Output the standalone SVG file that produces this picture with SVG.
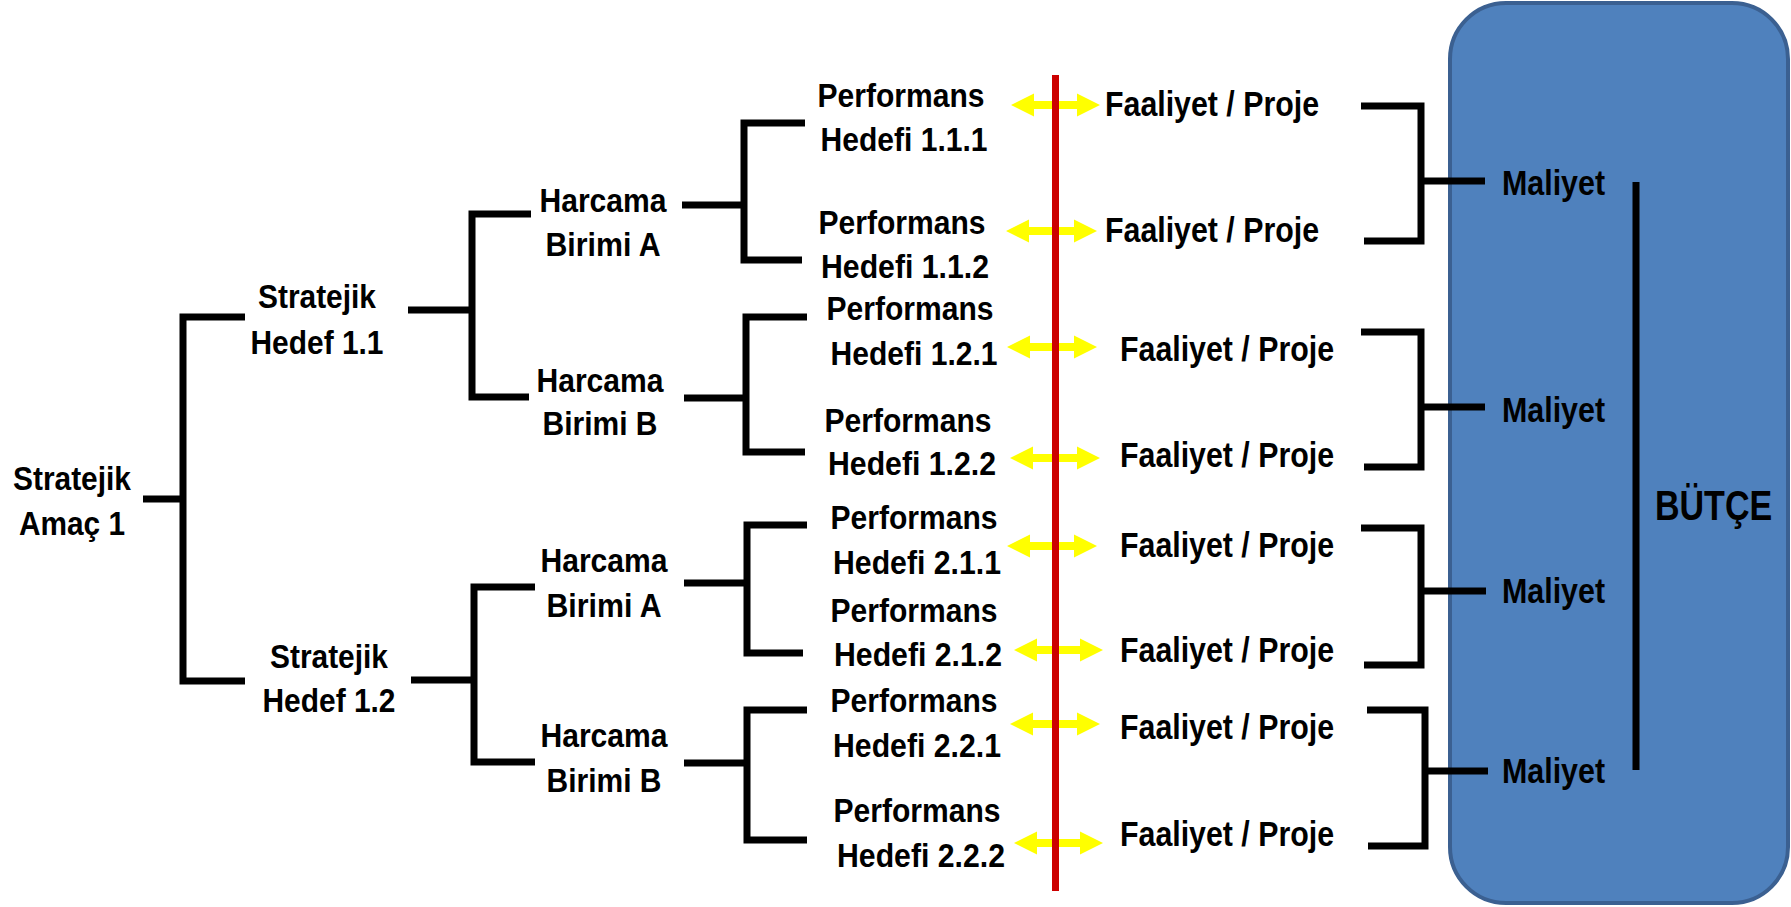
<svg xmlns="http://www.w3.org/2000/svg" width="1791" height="907" viewBox="0 0 1791 907">
<style>
text{font-family:"Liberation Sans",Arial,sans-serif;font-weight:bold;fill:#000;font-size:33px;text-anchor:middle}
.fp{font-size:35px;text-anchor:start}
.ml{font-size:35px;text-anchor:start}
.bt{font-size:42px;text-anchor:start}
.ln{fill:none;stroke:#000;stroke-width:7;stroke-linejoin:miter}
.arr{fill:#FFFF00;stroke:none}
</style>
<rect id="butce-box" x="1450" y="3" width="338" height="900" rx="56" ry="56" fill="#4F81BD" stroke="#3B6091" stroke-width="4"/>
<g id="connectors">
<path class="ln" d="M143,499 H183 M245,317 H183 V681 H245"/>
<path class="ln" d="M408,310 H472 M531,214 H472 V397 H529"/>
<path class="ln" d="M411,680 H474 M535,587 H474 V762 H535"/>
<path class="ln" d="M682,205 H744 M805,123 H744 V260 H802"/>
<path class="ln" d="M684,398 H746 M807,317 H746 V452 H805"/>
<path class="ln" d="M684,583 H747 M807,525 H747 V653 H803"/>
<path class="ln" d="M684,763 H747 M807,710 H747 V840 H807"/>
<path class="ln" d="M1361,106 H1421 V241 H1364 M1421,181 H1485"/>
<path class="ln" d="M1361,332 H1421 V467 H1364 M1421,407 H1485"/>
<path class="ln" d="M1361,528 H1421 V665 H1364 M1421,591 H1486"/>
<path class="ln" d="M1367,710 H1425 V846 H1368 M1425,771 H1488"/>
<path class="ln" d="M1636,182 V770"/>
<g id="arrows">
<path class="arr" d="M1011,105 l23,-11.5 v7.5 H1077 v-7.5 L1100,105 l-23,11.5 v-7.5 H1034 v7.5 Z"/>
<path class="arr" d="M1006,231 l23,-11.5 v7.5 H1074 v-7.5 L1097,231 l-23,11.5 v-7.5 H1029 v7.5 Z"/>
<path class="arr" d="M1007,347 l23,-11.5 v7.5 H1074 v-7.5 L1097,347 l-23,11.5 v-7.5 H1030 v7.5 Z"/>
<path class="arr" d="M1010,458 l23,-11.5 v7.5 H1077 v-7.5 L1100,458 l-23,11.5 v-7.5 H1033 v7.5 Z"/>
<path class="arr" d="M1007,546 l23,-11.5 v7.5 H1074 v-7.5 L1097,546 l-23,11.5 v-7.5 H1030 v7.5 Z"/>
<path class="arr" d="M1014,650 l23,-11.5 v7.5 H1080 v-7.5 L1103,650 l-23,11.5 v-7.5 H1037 v7.5 Z"/>
<path class="arr" d="M1010,724 l23,-11.5 v7.5 H1077 v-7.5 L1100,724 l-23,11.5 v-7.5 H1033 v7.5 Z"/>
<path class="arr" d="M1014,843 l23,-11.5 v7.5 H1080 v-7.5 L1103,843 l-23,11.5 v-7.5 H1037 v7.5 Z"/>
</g>
<line id="red-line" x1="1055.5" y1="75" x2="1055.5" y2="891" stroke="#CC0000" stroke-width="7"/>
</g>
<g id="amac1"><text x="72" y="490" textLength="118" lengthAdjust="spacingAndGlyphs">Stratejik</text><text x="72" y="535" textLength="106" lengthAdjust="spacingAndGlyphs">Amaç 1</text></g>
<g id="hedef11"><text x="317" y="308" textLength="118" lengthAdjust="spacingAndGlyphs">Stratejik</text><text x="317" y="354" textLength="133" lengthAdjust="spacingAndGlyphs">Hedef 1.1</text></g>
<g id="hedef12"><text x="329" y="668" textLength="118" lengthAdjust="spacingAndGlyphs">Stratejik</text><text x="329" y="712" textLength="133" lengthAdjust="spacingAndGlyphs">Hedef 1.2</text></g>
<g id="harcamaA1"><text x="603" y="212" textLength="127" lengthAdjust="spacingAndGlyphs">Harcama</text><text x="603" y="256" textLength="115" lengthAdjust="spacingAndGlyphs">Birimi A</text></g>
<g id="harcamaB1"><text x="600" y="392" textLength="127" lengthAdjust="spacingAndGlyphs">Harcama</text><text x="600" y="435" textLength="115" lengthAdjust="spacingAndGlyphs">Birimi B</text></g>
<g id="harcamaA2"><text x="604" y="572" textLength="127" lengthAdjust="spacingAndGlyphs">Harcama</text><text x="604" y="617" textLength="115" lengthAdjust="spacingAndGlyphs">Birimi A</text></g>
<g id="harcamaB2"><text x="604" y="747" textLength="127" lengthAdjust="spacingAndGlyphs">Harcama</text><text x="604" y="792" textLength="115" lengthAdjust="spacingAndGlyphs">Birimi B</text></g>
<g id="ph111"><text x="901" y="107" textLength="167" lengthAdjust="spacingAndGlyphs">Performans</text><text x="904" y="151" textLength="167" lengthAdjust="spacingAndGlyphs">Hedefi 1.1.1</text></g>
<g id="ph112"><text x="902" y="234" textLength="167" lengthAdjust="spacingAndGlyphs">Performans</text><text x="905" y="278" textLength="168" lengthAdjust="spacingAndGlyphs">Hedefi 1.1.2</text></g>
<g id="ph121"><text x="910" y="320" textLength="167" lengthAdjust="spacingAndGlyphs">Performans</text><text x="914" y="365" textLength="167" lengthAdjust="spacingAndGlyphs">Hedefi 1.2.1</text></g>
<g id="ph122"><text x="908" y="432" textLength="167" lengthAdjust="spacingAndGlyphs">Performans</text><text x="912" y="475" textLength="168" lengthAdjust="spacingAndGlyphs">Hedefi 1.2.2</text></g>
<g id="ph211"><text x="914" y="529" textLength="167" lengthAdjust="spacingAndGlyphs">Performans</text><text x="917" y="574" textLength="168" lengthAdjust="spacingAndGlyphs">Hedefi 2.1.1</text></g>
<g id="ph212"><text x="914" y="622" textLength="167" lengthAdjust="spacingAndGlyphs">Performans</text><text x="918" y="666" textLength="168" lengthAdjust="spacingAndGlyphs">Hedefi 2.1.2</text></g>
<g id="ph221"><text x="914" y="712" textLength="167" lengthAdjust="spacingAndGlyphs">Performans</text><text x="917" y="757" textLength="168" lengthAdjust="spacingAndGlyphs">Hedefi 2.2.1</text></g>
<g id="ph222"><text x="917" y="822" textLength="167" lengthAdjust="spacingAndGlyphs">Performans</text><text x="921" y="867" textLength="168" lengthAdjust="spacingAndGlyphs">Hedefi 2.2.2</text></g>
<g id="fp1"><text class="fp" x="1105" y="116" textLength="214" lengthAdjust="spacingAndGlyphs">Faaliyet / Proje</text></g>
<g id="fp2"><text class="fp" x="1105" y="242" textLength="214" lengthAdjust="spacingAndGlyphs">Faaliyet / Proje</text></g>
<g id="fp3"><text class="fp" x="1120" y="361" textLength="214" lengthAdjust="spacingAndGlyphs">Faaliyet / Proje</text></g>
<g id="fp4"><text class="fp" x="1120" y="467" textLength="214" lengthAdjust="spacingAndGlyphs">Faaliyet / Proje</text></g>
<g id="fp5"><text class="fp" x="1120" y="557" textLength="214" lengthAdjust="spacingAndGlyphs">Faaliyet / Proje</text></g>
<g id="fp6"><text class="fp" x="1120" y="662" textLength="214" lengthAdjust="spacingAndGlyphs">Faaliyet / Proje</text></g>
<g id="fp7"><text class="fp" x="1120" y="739" textLength="214" lengthAdjust="spacingAndGlyphs">Faaliyet / Proje</text></g>
<g id="fp8"><text class="fp" x="1120" y="846" textLength="214" lengthAdjust="spacingAndGlyphs">Faaliyet / Proje</text></g>
<g id="maliyet1"><text class="ml" x="1502" y="195" textLength="103" lengthAdjust="spacingAndGlyphs">Maliyet</text></g>
<g id="maliyet2"><text class="ml" x="1502" y="422" textLength="103" lengthAdjust="spacingAndGlyphs">Maliyet</text></g>
<g id="maliyet3"><text class="ml" x="1502" y="603" textLength="103" lengthAdjust="spacingAndGlyphs">Maliyet</text></g>
<g id="maliyet4"><text class="ml" x="1502" y="783" textLength="103" lengthAdjust="spacingAndGlyphs">Maliyet</text></g>
<g id="butce"><text class="bt" x="0" y="0" transform="matrix(0.81 0 0 1 1655 520)">BÜTÇE</text></g>
</svg>
